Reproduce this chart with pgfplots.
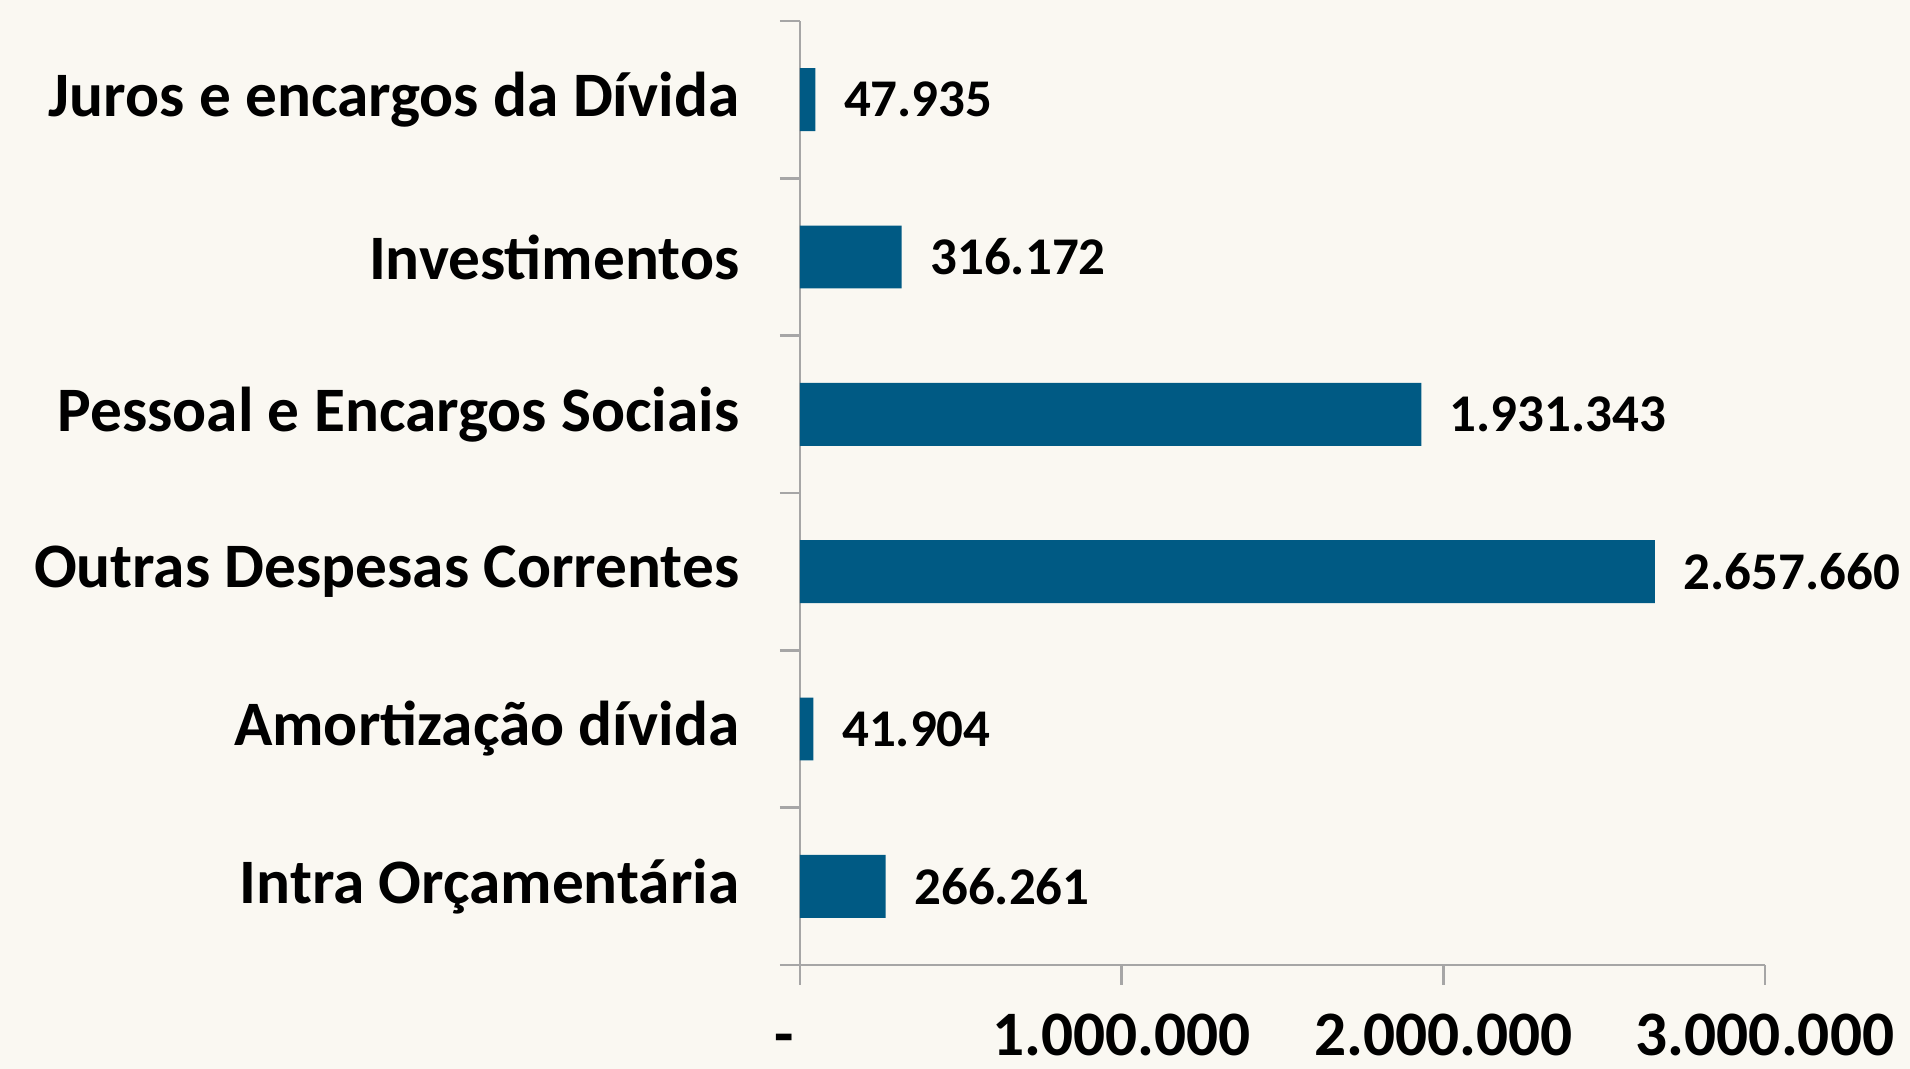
\documentclass[border=0pt]{standalone}
\usepackage{pgfplots}
\pgfplotsset{compat=1.18}
\usepackage{fontspec}
\setmainfont{Carlito}
\definecolor{bg}{HTML}{FAF8F2}
\definecolor{barblue}{HTML}{005A84}
\definecolor{axgray}{HTML}{A6A6A6}

\begin{document}
\begin{tikzpicture}
  % page = 1910 x 1069 px at 0.3pt per px
  \path[use as bounding box, fill=bg] (0,0) rectangle (573pt,320.7pt);
  \begin{axis}[
    at={(240pt,31.2pt)},
    anchor=south west,
    scale only axis,
    width=289.5pt,
    height=283.2pt,
    xbar,
    bar width=0.4,
    xmin=0, xmax=3000000,
    ymin=0.5, ymax=6.5,
    axis lines=left,
    axis line style={-, draw=axgray, line width=0.8pt},
    tick align=outside,
    xtick={0,1000000,2000000,3000000},
    xticklabels={-\phantom{0},1.000.000,2.000.000,3.000.000},
    xticklabel style={font=\bfseries\fontsize{19}{23}\selectfont, inner sep=0pt,
                      text height=12pt, text depth=0pt, anchor=north, yshift=-8.9pt},
    x tick style={draw=axgray, line width=0.8pt},
    major tick length=6pt,
    ytick={1,2,3,4,5,6},
    yticklabels={Intra Orçamentária, Amortização dívida, Outras Despesas Correntes,
                 Pessoal e Encargos Sociais, Investimentos, Juros e encargos da Dívida},
    y tick style={draw=none},
    minor ytick={0.5,1.5,...,6.5},
    minor y tick style={draw=axgray, line width=0.8pt},
    minor tick length=6pt,
    yticklabel style={font=\bfseries\fontsize{19}{23}\selectfont, inner sep=0pt, anchor=east, xshift=-12pt},
    nodes near coords={\pgfmathprintnumber[fixed,precision=0,1000 sep={.},assume math mode=true]{\pgfplotspointmeta}},
    nodes near coords style={font=\bfseries\fontsize{15.9}{18}\selectfont, anchor=west, inner sep=0pt, xshift=8.4pt, text=black},
    clip=false,
  ]
    \addplot[fill=barblue, draw=none] coordinates {
      (266261,1)   % Intra Orcamentaria
      (41904,2)    % Amortizacao divida
      (2657660,3)  % Outras Despesas Correntes
      (1931343,4)  % Pessoal e Encargos Sociais
      (316172,5)   % Investimentos
      (47935,6)    % Juros e encargos da Divida
    };
  \end{axis}
\end{tikzpicture}
\end{document}
